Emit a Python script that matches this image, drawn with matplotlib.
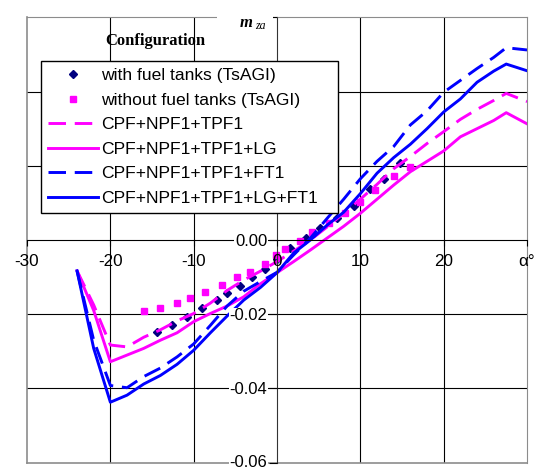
import numpy as np
import matplotlib
matplotlib.use("Agg")
import matplotlib.pyplot as plt
import matplotlib.transforms as mtransforms
from matplotlib.patches import Rectangle

plt.rcParams['font.family'] = ['Liberation Sans', 'DejaVu Sans']
plt.rcParams['axes.unicode_minus'] = False

# angle of attack grid for the computed curves
alpha = [-24, -22, -20, -18, -16, -14, -12, -10, -8, -6, -4, -2, 0, 2, 4, 6,
         8, 10, 12, 14, 16, 18, 20, 22, 24, 26, 27.5, 30]

# CPF+NPF1+TPF1
m_base = [-0.0083, -0.0175, -0.0283, -0.0288, -0.0262, -0.0242, -0.0218, -0.0198,
          -0.0170, -0.0136, -0.0108, -0.0084, -0.0058, -0.0030, 0.0000, 0.0035,
          0.0072, 0.0110, 0.0150, 0.0192, 0.0225, 0.0260, 0.0292, 0.0325,
          0.0352, 0.0376, 0.0395, 0.0373]
# CPF+NPF1+TPF1+LG
m_lg = [-0.0083, -0.0190, -0.0328, -0.0310, -0.0292, -0.0270, -0.0250, -0.0220,
        -0.0198, -0.0178, -0.0153, -0.0118, -0.0088, -0.0058, -0.0027, 0.0005,
        0.0037, 0.0072, 0.0110, 0.0148, 0.0184, 0.0212, 0.0240, 0.0278,
        0.0300, 0.0322, 0.0343, 0.0313]
# CPF+NPF1+TPF1+FT1
m_ft = [-0.0083, -0.0270, -0.0392, -0.0398, -0.0368, -0.0345, -0.0315, -0.0280,
        -0.0230, -0.0178, -0.0138, -0.0112, -0.0087, -0.0040, 0.0005, 0.0058,
        0.0110, 0.0165, 0.0212, 0.0252, 0.0310, 0.0348, 0.0398, 0.0430,
        0.0462, 0.0492, 0.0518, 0.0512]
# CPF+NPF1+TPF1+LG+FT1
m_lg_ft = [-0.0083, -0.0292, -0.0437, -0.0418, -0.0388, -0.0365, -0.0335, -0.0297,
           -0.0250, -0.0205, -0.0162, -0.0128, -0.0088, -0.0035, 0.0000, 0.0040,
           0.0075, 0.0125, 0.0180, 0.0222, 0.0258, 0.0300, 0.0345, 0.0380,
           0.0425, 0.0455, 0.0474, 0.0456]

# TsAGI test points
alpha_with = [-14.4, -12.6, -10.8, -9.0, -7.2, -6.0, -4.5, -3.0, -1.5, 0.0, 1.5,
              3.5, 5.2, 7.2, 9.2, 11.2, 12.8, 14.8]
m_with = [-0.0247, -0.0229, -0.0208, -0.0184, -0.0162, -0.0144, -0.0124, -0.0099,
          -0.0079, -0.0050, -0.0021, 0.0005, 0.0031, 0.0058, 0.0092, 0.0137,
          0.0164, 0.0207]
alpha_without = [-16, -14, -12, -10.4, -8.6, -6.6, -4.8, -3.2, -1.5, -0.1, 1.0,
                 2.8, 4.2, 6.2, 8.1, 10, 11.8, 14, 16]
m_without = [-0.0190, -0.0184, -0.0171, -0.0155, -0.0141, -0.0121, -0.0099, -0.0085,
             -0.0065, -0.0040, -0.0025, -0.0003, 0.0021, 0.0047, 0.0074, 0.0103,
             0.0135, 0.0172, 0.0198]

x_ticks = [-30, -20, -10, 0, 10, 20, 30]
x_labels = ['-30', '-20', '-10', '0', '10', '20', 'α°']
y_ticks = [-0.06, -0.04, -0.02, 0.0, 0.02, 0.04, 0.06]
y_labels = ['-0.06', '-0.04', '-0.02', '0.00', '', '', '']

fig = plt.figure(figsize=(5.46, 4.70), dpi=100)
ax = fig.add_axes([0.0495, 0.0155, 0.9158, 0.9477])
ax.set_xlim(-30, 30)
ax.set_ylim(-0.06, 0.06)

# grid
for gx in [-20, -10, 10, 20]:
    ax.axvline(gx, color='black', lw=0.8, zorder=1)
for gy in [-0.04, -0.02, 0.02, 0.04]:
    ax.axhline(gy, color='black', lw=0.8, zorder=1)

# outer frame
frame_col = '#8c8c8c'
ax.spines['top'].set_color(frame_col)
ax.spines['right'].set_color(frame_col)
ax.axvline(-30, color=frame_col, lw=1.2, clip_on=False, zorder=2.5)
ax.axhline(-0.06, color=frame_col, lw=1.2, clip_on=False, zorder=2.5)

# axes through the origin
ax.spines['left'].set_position(('data', 0))
ax.spines['bottom'].set_position(('data', 0))
ax.spines['left'].set_color('#333333')
ax.spines['bottom'].set_color('black')
ax.set_axisbelow(False)

ax.plot(alpha_with, m_with, linestyle='none', marker='D', ms=4.5, color='#000080',
        label='with fuel tanks (TsAGI)')
ax.plot(alpha_without, m_without, linestyle='none', marker='s', ms=5, color='#ff00ff',
        label='without fuel tanks (TsAGI)')
ax.plot(alpha, m_base, color='#ff00ff', lw=2.1, dashes=(6, 3), label='CPF+NPF1+TPF1')
ax.plot(alpha, m_lg, color='#ff00ff', lw=2.1, label='CPF+NPF1+TPF1+LG')
ax.plot(alpha, m_ft, color='#0000ff', lw=2.1, dashes=(6, 3), label='CPF+NPF1+TPF1+FT1')
ax.plot(alpha, m_lg_ft, color='#0000ff', lw=2.1, label='CPF+NPF1+TPF1+LG+FT1')

ax.set_xticks(x_ticks)
ax.set_xticklabels(x_labels)
ax.set_yticks(y_ticks)
ax.set_yticklabels(y_labels)
ax.tick_params(axis='x', direction='out', length=4, width=0.8, pad=6, labelsize=12.3)
ax.tick_params(axis='y', direction='out', length=6, width=0.8, pad=1, labelsize=12)
for lbl in ax.get_yticklabels():
    lbl.set_bbox(dict(fc='white', ec='none', pad=0.5))
# keep the lowest label inside the picture
low = ax.get_yticklabels()[0]
low.set_transform(low.get_transform() + mtransforms.ScaledTranslation(0, 2 / 100, fig.dpi_scale_trans))

# axis title at the top of the vertical axis
ax.add_patch(Rectangle((0.38, 0.985), 0.112, 0.03, transform=ax.transAxes,
                       fc='white', ec='none', clip_on=False, zorder=2.6))
ax.annotate('m', xy=(0, 0.06), xytext=(-37, -10), textcoords='offset pixels',
            ha='left', va='baseline', fontsize=12, family='Liberation Serif',
            style='italic', weight='bold', annotation_clip=False, zorder=3)
ax.annotate('za', xy=(0, 0.06), xytext=(-22, -12), textcoords='offset pixels',
            ha='left', va='baseline', fontsize=8.5, family='Liberation Serif',
            style='italic', annotation_clip=False, zorder=3)

leg = ax.legend(loc='upper left', bbox_to_anchor=(0.028, 0.5, 0.594, 0.402),
                mode='expand', borderaxespad=0, fontsize=12.6, numpoints=1,
                handlelength=2.85, handletextpad=0.2, labelspacing=0.53,
                borderpad=0.4, fancybox=False, framealpha=1, edgecolor='black')
leg.get_frame().set_linewidth(1.0)
fig.text(155 / 546, 1 - 41 / 470, 'Configuration', ha='center', va='center',
         fontsize=12, family='Liberation Serif', weight='bold')

fig.savefig('out.png', dpi=100)
